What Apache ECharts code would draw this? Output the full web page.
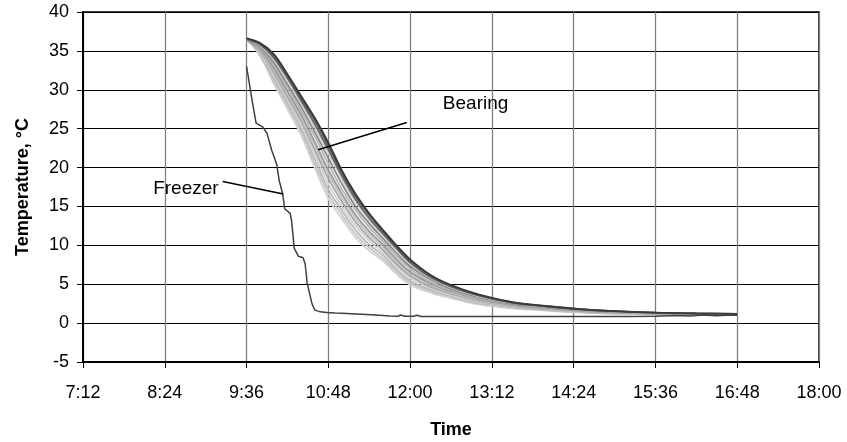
<!DOCTYPE html>
<html>
<head>
<meta charset="utf-8">
<script src="https://cdn.jsdelivr.net/npm/echarts@6/dist/echarts.min.js"></script>
<style>
html,body{margin:0;padding:0;background:#fff;}
#chart{width:847px;height:442px;}
</style>
</head>
<body>
<div id="chart"></div>
<script>
// Time in hours of the day
var xTickLabels = ['7:12','8:24','9:36','10:48','12:00','13:12','14:24','15:36','16:48','18:00'];
var yTickValues = [-5,0,5,10,15,20,25,30,35,40];

// Freezer trace: [hour, °C]
var freezerTime = [9.60,9.68,9.74,9.84,9.90,9.97,10.04,10.08,10.13,10.16,10.24,10.26,10.30,10.36,10.43,10.46,10.49,10.56,10.60,10.68,10.78,10.9,11.07,11.36,11.55,11.70,11.82,11.86,11.92,12.05,12.10,12.16,12.30,12.8,13.4,14.0,14.6,15.2,15.6,15.9,16.1,16.3,16.5,16.7,16.8];
var freezerTemp = [33.0,28.7,25.7,25.2,24.4,22.2,20.5,18.3,16.6,14.7,14.1,13.2,9.6,8.6,8.4,7.6,5.1,2.5,1.7,1.45,1.35,1.3,1.25,1.1,1.0,0.9,0.88,1.05,0.88,0.88,1.02,0.86,0.86,0.86,0.85,0.85,0.86,0.86,0.88,0.98,0.9,1.05,0.95,1.05,1.0];

// Bearing traces share a time base
var bearingTime = [9.6,9.8,10.0,10.2,10.4,10.6,10.8,11.0,11.2,11.4,11.6,11.8,12.0,12.3,12.6,13.0,13.5,14.0,14.5,15.0,15.6,16.2,16.8];
var bearing1  = [36.6,36.0,34.6,32.0,29.2,26.4,23.2,19.6,16.6,14.1,12.0,10.0,8.2,6.2,4.9,3.7,2.7,2.2,1.8,1.55,1.35,1.25,1.2];
var bearing2  = [36.6,35.9,34.4,31.8,28.9,26.1,22.8,19.3,16.3,13.9,11.8,9.8,8.0,6.1,4.8,3.6,2.65,2.17,1.78,1.53,1.34,1.24,1.2];
var bearing3  = [36.5,35.8,34.1,31.5,28.6,25.6,22.3,18.9,15.9,13.5,11.5,9.6,7.8,5.9,4.7,3.55,2.6,2.13,1.75,1.51,1.32,1.23,1.19];
var bearing4  = [36.7,35.7,33.9,31.2,28.3,25.2,21.9,18.5,15.6,13.2,11.3,9.3,7.6,5.8,4.6,3.47,2.56,2.09,1.72,1.49,1.3,1.22,1.18];
var bearing5  = [36.5,35.5,33.5,30.7,27.8,24.6,21.2,17.9,15.0,12.8,10.9,9.0,7.3,5.6,4.4,3.34,2.48,2.03,1.67,1.45,1.28,1.21,1.17];
var bearing6  = [36.6,35.35,33.2,30.3,27.3,24.0,20.5,17.2,14.5,12.3,10.5,8.6,7.0,5.3,4.25,3.2,2.4,1.97,1.63,1.42,1.25,1.19,1.16];
var bearing7  = [36.5,35.2,32.8,29.8,26.8,23.3,19.7,16.6,13.9,11.8,10.1,8.2,6.6,5.1,4.1,3.1,2.32,1.91,1.58,1.38,1.23,1.18,1.15];
var bearing8  = [36.6,35.05,32.5,29.5,26.4,22.8,19.2,16.1,13.5,11.4,9.8,7.9,6.4,4.9,3.95,2.97,2.25,1.86,1.55,1.35,1.21,1.17,1.14];
var bearing9  = [36.4,34.9,32.2,29.1,26.0,22.3,18.6,15.6,13.0,11.0,9.4,7.6,6.1,4.7,3.8,2.87,2.19,1.82,1.51,1.33,1.19,1.15,1.14];
var bearing10 = [36.7,34.7,31.8,28.7,25.5,21.7,17.9,15.0,12.5,10.6,9.0,7.3,5.8,4.5,3.6,2.74,2.11,1.76,1.47,1.29,1.16,1.14,1.13];
var bearing11 = [36.5,34.6,31.45,28.3,25.05,21.1,17.2,14.45,11.95,10.1,8.7,6.9,5.45,4.3,3.5,2.62,2.04,1.7,1.43,1.26,1.14,1.13,1.12];
var bearing12 = [36.6,34.45,31.1,27.9,24.6,20.5,16.6,13.9,11.45,9.7,8.3,6.6,5.15,4.1,3.35,2.5,1.96,1.65,1.39,1.23,1.12,1.11,1.11];
var bearing13 = [36.6,34.3,30.8,27.5,24.2,20.0,16.0,13.4,11.0,9.3,8.0,6.3,4.9,3.9,3.2,2.4,1.9,1.6,1.35,1.2,1.1,1.1,1.1];

var bearingSets = [bearing13,bearing12,bearing11,bearing10,bearing9,bearing8,bearing7,bearing6,bearing5,bearing4,bearing3,bearing2,bearing1];
var bearingColors = ['#d4d4d4','#c6c6c6','#b8b8b8','#d0d0d0','#a4a4a4','#c2c2c2','#989898','#b4b4b4','#888888','#d0d0d0','#686868','#555555','#3a3a3a'];

// Annotations (data coordinates)
var annotations = [
  {text:'Freezer', textAt:[9.19,17.3], align:'right', from:[9.25,18.2], to:[10.14,16.6]},
  {text:'Bearing', textAt:[12.48,28.2], align:'left', from:[11.95,25.8], to:[10.65,22.3]}
];

function pairs(xs, ys){ var out=[]; for(var i=0;i<xs.length;i++){ out.push([xs[i], ys[i]]); } return out; }

var FONT = '"Liberation Sans", Arial, sans-serif';
var series = [];
bearingSets.forEach(function(vals, i){
  series.push({
    type:'line', data:pairs(bearingTime, vals), showSymbol:false, smooth:0.35,
    lineStyle:{color:bearingColors[i], width:1.8}, z:3, silent:true
  });
});
series.push({
  type:'line', data:pairs(freezerTime, freezerTemp), showSymbol:false,
  lineStyle:{color:'#404040', width:1.5}, z:4, silent:true
});
// annotation leader lines and labels
series.push({
  type:'line', data:[], silent:true,
  markLine:{
    silent:true, symbol:['none','none'], animation:false,
    lineStyle:{color:'#000', width:1.5, type:'solid'}, label:{show:false},
    data: annotations.map(function(a){ return [{coord:a.from},{coord:a.to}]; })
  },
  markPoint:{
    silent:true, symbol:'rect', symbolSize:0, animation:false,
    data: annotations.map(function(a){
      return {coord:a.textAt, label:{show:true, formatter:a.text, position:a.align==='right'?'left':'right', distance:0,
        color:'#000', fontSize:19, fontFamily:FONT}};
    })
  }
});

var chart = echarts.init(document.getElementById('chart'), null, {renderer:'canvas'});
chart.setOption({
  animation:false,
  backgroundColor:'#fff',
  grid:{left:83, top:12, right:28, bottom:80, containLabel:false, outerBoundsMode:'none',
    show:true, borderColor:'#000', borderWidth:1.5, backgroundColor:'transparent'},
  xAxis:{
    type:'value', min:7.2, max:18, interval:1.2,
    name:'Time', nameLocation:'middle', nameGap:59,
    nameTextStyle:{fontFamily:FONT, fontSize:18, fontWeight:'bold', color:'#000'},
    axisLine:{show:true, onZero:false, lineStyle:{color:'#000', width:2}},
    axisTick:{show:true, length:6, lineStyle:{color:'#000', width:1}},
    axisLabel:{margin:22, fontFamily:FONT, fontSize:18, color:'#000',
      formatter:function(v){ var i=Math.round((v-7.2)/1.2); return xTickLabels[i]||''; }},
    splitLine:{show:true, lineStyle:{color:'#808080', width:1.3}}
  },
  yAxis:{
    type:'value', min:-5, max:40, interval:5,
    name:'Temperature, °C', nameLocation:'middle', nameGap:51, nameRotate:90,
    nameTextStyle:{fontFamily:FONT, fontSize:18, fontWeight:'bold', color:'#000'},
    axisLine:{show:true, lineStyle:{color:'#000', width:2}},
    axisTick:{show:true, length:6, lineStyle:{color:'#000', width:1}},
    axisLabel:{margin:14, fontFamily:FONT, fontSize:18, color:'#000',
      formatter:function(v){ return yTickValues.indexOf(v)>=0 ? String(v) : ''; }},
    splitLine:{show:true, lineStyle:{color:'#000', width:1.2}}
  },
  series:series
});
</script>
</body>
</html>
